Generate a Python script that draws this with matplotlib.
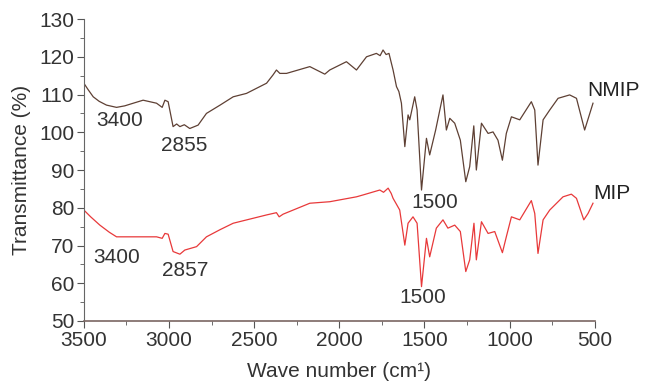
import matplotlib.pyplot as plt
from matplotlib.ticker import MultipleLocator

plt.rcParams['font.family'] = ['Liberation Sans', 'DejaVu Sans']

# NMIP spectrum (wave number, transmittance)
nmip_wn = [3500, 3475, 3445, 3410, 3367, 3308, 3260, 3210, 3152, 3073, 3040, 3024, 3005, 2976,
           2955, 2936, 2910, 2878, 2829, 2780, 2700, 2623, 2545, 2427, 2389, 2369, 2349, 2310,
           2173, 2085, 2056, 1958, 1899, 1840, 1782, 1760, 1743, 1725, 1708, 1695, 1684, 1664,
           1650, 1635, 1615, 1596, 1586, 1557, 1543, 1517, 1488, 1469, 1434, 1391, 1371, 1351,
           1322, 1289, 1257, 1234, 1210, 1195, 1165, 1126, 1097, 1068, 1042, 1019,
           989, 940, 872, 852, 833, 803, 764, 715, 647, 607, 559, 510]
nmip_t = [113.0, 111.3, 109.4, 108.2, 107.2, 106.6, 107.0, 107.7, 108.5, 107.7, 106.6, 108.5, 108.1, 101.5,
          102.2, 101.5, 102.0, 101.0, 101.9, 105.0, 107.2, 109.4, 110.3, 113.0, 115.2, 116.5, 115.6, 115.6,
          117.4, 115.4, 116.5, 118.7, 116.5, 120.0, 120.9, 120.3, 121.8, 120.6, 120.9, 118.5, 116.5, 112.1,
          110.8, 107.7, 96.2, 104.6, 103.3, 109.4, 105.9, 84.7, 98.4, 94.0, 100.6, 109.9, 100.6, 103.7,
          102.4, 97.9, 86.9, 90.9, 101.7, 90.0, 102.4, 99.7, 100.1, 97.9, 92.6, 99.7,
          104.1, 103.3, 108.1, 105.9, 91.3, 103.3, 105.9, 109.0, 109.9, 109.0, 100.6, 107.7]

# MIP spectrum
mip_wn = [3500, 3460, 3406, 3350, 3308, 3200, 3073, 3040, 3024, 3005, 2976, 2936, 2907, 2838,
          2780, 2700, 2623, 2427, 2369, 2353, 2330, 2173, 2056, 1899, 1860, 1762, 1740, 1713,
          1695, 1684, 1665, 1645, 1615, 1596, 1567, 1543, 1517, 1488, 1469, 1430, 1391, 1362,
          1322, 1289, 1257, 1234, 1209, 1195, 1165, 1126, 1087, 1042, 1019, 989, 940,
          872, 852, 833, 803, 764, 686, 637, 607, 564, 539, 510]
mip_t = [79.4, 77.6, 75.4, 73.5, 72.3, 72.3, 72.3, 71.9, 73.2, 73.0, 68.4, 67.7, 68.8, 69.7,
         72.3, 74.2, 75.9, 78.1, 78.7, 77.6, 78.3, 81.2, 81.6, 82.9, 83.4, 84.7, 84.1, 85.2,
         83.8, 82.5, 81.0, 79.4, 70.1, 75.9, 77.6, 75.9, 59.1, 71.9, 67.0, 74.6, 76.8, 74.6,
         75.4, 73.7, 63.1, 66.2, 75.9, 66.2, 76.3, 73.2, 73.7, 68.1, 72.3, 77.6, 76.8,
         81.9, 78.5, 67.9, 76.8, 79.4, 82.9, 83.6, 82.5, 76.8, 78.5, 81.2]

# peak labels: text, wave number, transmittance
peak_labels = [("3400", 3289, 103.2), ("2855", 2913, 96.6), ("1500", 1439, 81.3),
               ("3400", 3306, 66.7), ("2857", 2907, 63.5), ("1500", 1510, 56.1)]
series_labels = [("NMIP", 388, 111.2), ("MIP", 400, 83.9)]

fig = plt.figure(figsize=(6.45, 3.81), dpi=100)
ax = fig.add_axes([0.130, 0.1575, 0.792, 0.7925])

ax.plot(nmip_wn, nmip_t, color='#5e4034', lw=0.9)
ax.plot(mip_wn, mip_t, color='#e8393a', lw=0.9)

for txt, x, y in peak_labels:
    ax.text(x, y, txt, fontsize=15, color='#333333', ha='center', va='center')
for txt, x, y in series_labels:
    ax.text(x, y, txt, fontsize=15, color='#222222', ha='center', va='center')

ax.set_xlim(3500, 500)
ax.set_ylim(50, 130)
ax.xaxis.set_major_locator(MultipleLocator(500))
ax.xaxis.set_minor_locator(MultipleLocator(250))
ax.yaxis.set_major_locator(MultipleLocator(10))
ax.yaxis.set_minor_locator(MultipleLocator(5))

for side in ['top', 'right']:
    ax.spines[side].set_visible(False)
ax.spines['bottom'].set_color('#7a6662')
ax.spines['left'].set_color('#666666')
ax.spines['bottom'].set_linewidth(1.2)
ax.tick_params(which='major', length=5, color='#555555', labelsize=15, labelcolor='#333333', pad=2)
ax.tick_params(which='minor', length=3, color='#555555')

ax.set_xlabel("Wave number (cm¹)", fontsize=15, color='#333333', labelpad=9)
ax.set_ylabel("Transmittance (%)", fontsize=15, color='#333333', labelpad=6)

plt.savefig("out.png", dpi=100)
